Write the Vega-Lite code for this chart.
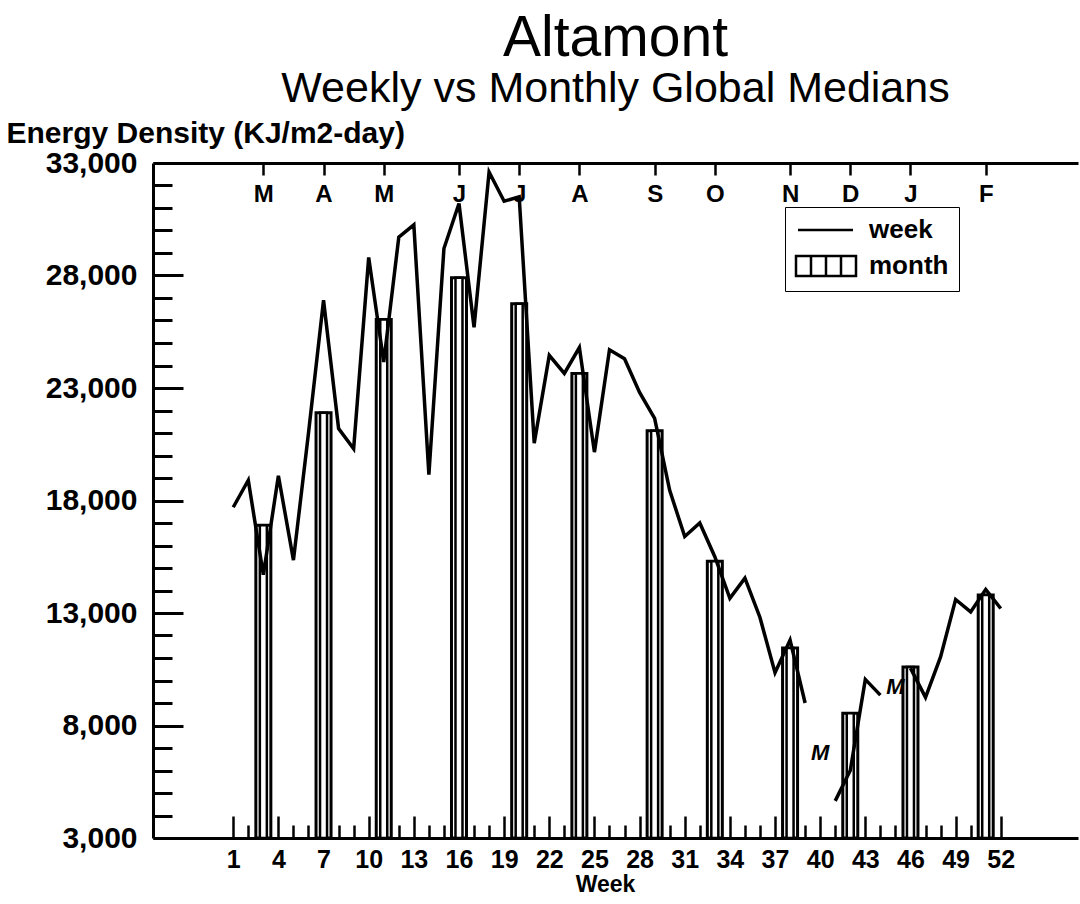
{
  "$schema": "https://vega.github.io/schema/vega-lite/v6.json",
  "width": 925,
  "height": 675,
  "autosize": {"type": "none"},
  "padding": {"left": 153, "top": 163, "right": 2, "bottom": 66},
  "background": "white",
  "config": {"view": {"stroke": null}, "font": "Liberation Sans"},
  "title": {
    "text": "Altamont",
    "subtitle": "Weekly vs Monthly Global Medians",
    "anchor": "middle",
    "font": "Liberation Sans",
    "fontSize": 57,
    "fontWeight": "normal",
    "color": "black",
    "subtitleFont": "Liberation Sans",
    "subtitleFontSize": 43,
    "subtitleColor": "black",
    "subtitlePadding": 0,
    "offset": 6
  },
  "datasets": {
    "weekly": [
      {"week": 1, "energy": 17700}, {"week": 2, "energy": 18900}, {"week": 3, "energy": 14700},
      {"week": 4, "energy": 19100}, {"week": 5, "energy": 15350}, {"week": 6, "energy": 21000},
      {"week": 7, "energy": 26900}, {"week": 8, "energy": 21200}, {"week": 9, "energy": 20300},
      {"week": 10, "energy": 28800}, {"week": 11, "energy": 24150}, {"week": 12, "energy": 29700},
      {"week": 13, "energy": 30250}, {"week": 14, "energy": 19150}, {"week": 15, "energy": 29200},
      {"week": 16, "energy": 31200}, {"week": 17, "energy": 25700}, {"week": 18, "energy": 32600},
      {"week": 19, "energy": 31300}, {"week": 20, "energy": 31500}, {"week": 21, "energy": 20550},
      {"week": 22, "energy": 24450}, {"week": 23, "energy": 23650}, {"week": 24, "energy": 24800},
      {"week": 25, "energy": 20150}, {"week": 26, "energy": 24700}, {"week": 27, "energy": 24300},
      {"week": 28, "energy": 22800}, {"week": 29, "energy": 21650}, {"week": 30, "energy": 18450},
      {"week": 31, "energy": 16400}, {"week": 32, "energy": 17000}, {"week": 33, "energy": 15500},
      {"week": 34, "energy": 13650}, {"week": 35, "energy": 14550}, {"week": 36, "energy": 12800},
      {"week": 37, "energy": 10350}, {"week": 38, "energy": 11800}, {"week": 39, "energy": 9000},
      {"week": 40, "energy": null}, {"week": 41, "energy": 4650}, {"week": 42, "energy": 6000},
      {"week": 43, "energy": 10050}, {"week": 44, "energy": 9350}, {"week": 45, "energy": null},
      {"week": 46, "energy": 10550}, {"week": 47, "energy": 9250}, {"week": 48, "energy": 11050},
      {"week": 49, "energy": 13600}, {"week": 50, "energy": 13050}, {"week": 51, "energy": 14050},
      {"week": 52, "energy": 13200}
    ],
    "monthly": [
      {"month": "M", "week": 3, "energy": 16900},
      {"month": "A", "week": 7, "energy": 21900},
      {"month": "M", "week": 11, "energy": 26050},
      {"month": "J", "week": 16, "energy": 27900},
      {"month": "J", "week": 20, "energy": 26750},
      {"month": "A", "week": 24, "energy": 23650},
      {"month": "S", "week": 29, "energy": 21100},
      {"month": "O", "week": 33, "energy": 15300},
      {"month": "N", "week": 38, "energy": 11450},
      {"month": "D", "week": 42, "energy": 8550},
      {"month": "J", "week": 46, "energy": 10600},
      {"month": "F", "week": 51, "energy": 13800}
    ],
    "missing": [
      {"week": 40, "energy": 6800, "flag": "M"},
      {"week": 45, "energy": 9700, "flag": "M"}
    ]
  },
  "layer": [
    {
      "data": {"name": "monthly"},
      "mark": {"type": "bar", "width": 15, "fill": "white", "strokeWidth": 3},
      "encoding": {
        "x": {
          "field": "week", "type": "quantitative",
          "scale": {"domain": [-4, 56.8], "nice": false, "zero": false},
          "axis": {
            "orient": "bottom",
            "values": [1,2,3,4,5,6,7,8,9,10,11,12,13,14,15,16,17,18,19,20,21,22,23,24,25,26,27,28,29,30,31,32,33,34,35,36,37,38,39,40,41,42,43,44,45,46,47,48,49,50,51,52],
            "tickCount": 200,
            "format": "d",
            "labelExpr": "datum.value % 3 === 1 ? format(datum.value, 'd') : ''",
            "tickSize": {"condition": {"test": "datum.value % 3 === 1", "value": -22}, "value": -13},
            "labelPadding": 31,
            "tickWidth": 2.5, "tickColor": "black",
            "domainWidth": 3, "domainColor": "black",
            "grid": false,
            "labelFont": "Liberation Sans", "labelFontSize": 25, "labelFontWeight": "bold", "labelColor": "black",
            "labelFlush": false, "labelOverlap": false,
            "title": "Week", "titleFont": "Liberation Sans", "titleFontSize": 23, "titleFontWeight": "bold", "titleColor": "black",
            "titleBaseline": "middle", "titleY": 46, "titleX": 452
          }
        },
        "y": {
          "field": "energy", "type": "quantitative",
          "scale": {"domain": [3000, 33000], "nice": false, "zero": false},
          "axis": {
            "values": [3000,4000,5000,6000,7000,8000,9000,10000,11000,12000,13000,14000,15000,16000,17000,18000,19000,20000,21000,22000,23000,24000,25000,26000,27000,28000,29000,30000,31000,32000,33000],
            "tickCount": 200,
            "format": ",d",
            "labelExpr": "(datum.value - 3000) % 5000 === 0 ? format(datum.value, ',d') : ''",
            "tickSize": {"condition": {"test": "(datum.value - 3000) % 5000 === 0", "value": -30}, "value": -19},
            "labelPadding": 46,
            "tickWidth": 3, "tickColor": "black",
            "domainWidth": 3, "domainColor": "black",
            "grid": false,
            "labelFont": "Liberation Sans", "labelFontSize": 30, "labelFontWeight": "bold", "labelColor": "black",
            "labelFlush": false, "labelOverlap": false,
            "title": "Energy Density (KJ/m2-day)", "titleFont": "Liberation Sans", "titleFontSize": 30, "titleFontWeight": "bold", "titleColor": "black",
            "titleAngle": 0, "titleAlign": "left", "titleBaseline": "middle", "titleX": -147, "titleY": -30
          }
        },
        "y2": {"datum": 3000},
        "stroke": {"datum": "month"}
      }
    },
    {
      "data": {"name": "monthly"},
      "mark": {"type": "bar", "width": 7, "fill": "white", "stroke": "black", "strokeWidth": 2.5},
      "encoding": {
        "x": {
          "field": "week", "type": "quantitative",
          "axis": {
            "orient": "top",
            "values": [3, 7, 11, 16, 20, 24, 29, 33, 38, 42, 46, 51],
            "labelExpr": "['M','A','M','J','J','A','S','O','N','D','J','F'][indexof([3,7,11,16,20,24,29,33,38,42,46,51], datum.value)]",
            "tickSize": -12,
            "labelPadding": -7,
            "labelBaseline": "top",
            "tickWidth": 2.5, "tickColor": "black",
            "domainWidth": 3, "domainColor": "black",
            "grid": false,
            "labelFont": "Liberation Sans", "labelFontSize": 24, "labelFontWeight": "bold", "labelColor": "black",
            "labelFlush": false, "labelOverlap": false,
            "title": null
          }
        },
        "y": {"field": "energy", "type": "quantitative"},
        "y2": {"datum": 3000}
      }
    },
    {
      "data": {"name": "weekly"},
      "mark": {"type": "line", "strokeWidth": 3.5, "strokeJoin": "miter", "invalid": "break-paths-filter-domains"},
      "encoding": {
        "x": {"field": "week", "type": "quantitative", "axis": null},
        "y": {"field": "energy", "type": "quantitative"},
        "stroke": {
          "datum": "week",
          "scale": {"domain": ["week", "month"], "range": ["black", "black"]},
          "legend": {
            "orient": "none",
            "legendX": 632,
            "legendY": 44,
            "title": null,
            "strokeColor": "black",
            "padding": 10,
            "symbolSize": 400,
            "labelOffset": 48,
            "rowPadding": 8,
            "labelFont": "Liberation Sans",
            "labelFontSize": 26,
            "labelFontWeight": "bold",
            "labelColor": "black",
            "encode": {
              "symbols": {
                "update": {
                  "shape": {"signal": "datum.value === 'week' ? 'M-1,0H4.5' : 'M-1.2,-1H4.8V1H-1.2Z M0.3,-1V1 M1.8,-1V1 M3.3,-1V1'"},
                  "fill": {"value": "white"},
                  "stroke": {"value": "black"},
                  "strokeWidth": {"value": 2.5},
                  "opacity": {"value": 1}
                }
              }
            }
          }
        }
      }
    },
    {
      "data": {"name": "missing"},
      "mark": {"type": "text", "font": "Liberation Sans", "fontSize": 22, "fontWeight": "bold", "fontStyle": "italic", "color": "black"},
      "encoding": {
        "x": {"field": "week", "type": "quantitative", "axis": null},
        "y": {"field": "energy", "type": "quantitative"},
        "text": {"field": "flag"}
      }
    }
  ],
  "resolve": {"axis": {"x": "independent"}}
}
